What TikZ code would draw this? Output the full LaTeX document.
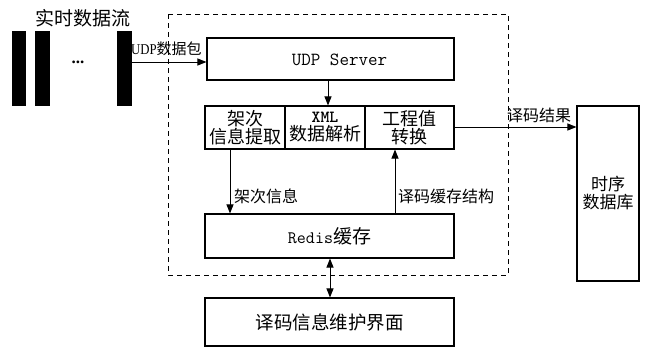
\documentclass[tikz,border=0pt]{standalone}
\usepackage{fontspec}
\setmainfont{Liberation Serif}
\newfontfamily\cjk{Noto Sans CJK SC}
\newcommand\mymono{\ttfamily}
\usetikzlibrary{arrows.meta}
\begin{document}
\begin{tikzpicture}[x=1pt,y=-1pt,
  box/.style={draw,line width=1.1pt,inner sep=0pt},
  bar/.style={fill=black,draw=none,inner sep=0pt},
  arr/.style={-{Triangle[length=9pt,width=7pt]},line width=1pt},
  darr/.style={{Triangle[length=9pt,width=7pt]}-{Triangle[length=9pt,width=7pt]},line width=1pt},
  lbl/.style={font=\cjk\fontsize{16}{17}\selectfont,inner sep=0pt},
  txt/.style={font=\cjk\fontsize{18}{18}\selectfont,align=center}]
\useasboundingbox (0,0) rectangle (645,351);
% dashed frame
\draw[line width=1pt,dash pattern=on 5pt off 4pt] (168,14) rectangle (508,275);
% bars
\node[bar,minimum width=14pt,minimum height=75pt] (b1) at (19,68.5) {};
\node[bar,minimum width=15pt,minimum height=75pt] (b2) at (42.5,68.5) {};
\node[bar,minimum width=15pt,minimum height=75pt] (b3) at (124,68.5) {};
\node[font=\bfseries\fontsize{17}{17}\selectfont,inner sep=0pt] (dots) at (78,62) {...};
\node[lbl,font=\cjk\fontsize{19}{19}\selectfont] (title) at (83,18) {实时数据流};
% boxes
\node[box,minimum width=247pt,minimum height=42pt] (udp) at (330.5,59) {};
\node[inner sep=0pt,font=\mymono\fontsize{18.5}{18}\selectfont] (udptxt) at (339.5,60) {UDP Server};
\node[box,minimum width=80pt,minimum height=43pt,txt] (jc) at (245,127.5) {架次\\信息提取};
\node[box,minimum width=80pt,minimum height=43pt,txt] (xml) at (325,127.5) {{\mymono\bfseries\fontsize{17}{15}\selectfont XML}\\数据解析};
\node[box,minimum width=89pt,minimum height=43pt,txt] (gc) at (409.5,127.5) {工程值\\转换};
\node[box,minimum width=249pt,minimum height=44pt] (redis) at (329.5,236) {{\mymono\fontsize{17.5}{15}\selectfont Redis}{\cjk\fontsize{19}{19}\selectfont 缓存}};
\node[box,minimum width=249pt,minimum height=48pt,font=\cjk\fontsize{18.5}{19}\selectfont] (ui) at (329.5,322) {译码信息维护界面};
\node[box,minimum width=62pt,minimum height=175pt,font=\cjk\fontsize{17}{18}\selectfont,align=center] (db) at (608,193.5) {时序\\数据库};
% connectors
\coordinate (udpin) at (b3.east |- 0,62);
\draw[arr] (udpin) -- (udp.west |- udpin);
\node[lbl,font=\fontsize{15}{15}\selectfont\cjk,anchor=south west] (udplbl) at (131,56) {{\fontspec{Liberation Serif}[FakeStretch=0.85]UDP}数据包};
\draw[arr] (udp.south -| 328,0) -- (jc.north -| 328,0);
\draw[arr] (jc.south -| 230,0) -- (redis.north -| 230,0);
\node[lbl,anchor=west] (jclbl) at (234,196) {架次信息};
\draw[arr] (redis.north -| 395,0) -- (gc.south -| 395,0);
\node[lbl,anchor=west] (hclbl) at (398,196) {译码缓存结构};
\draw[arr] (gc.east |- 0,127) -- (db.west |- 0,127);
\node[lbl,anchor=south west] (jglbl) at (507,123) {译码结果};
\draw[darr] (redis.south -| 330,0) -- (ui.north -| 330,0);
\end{tikzpicture}
\end{document}
